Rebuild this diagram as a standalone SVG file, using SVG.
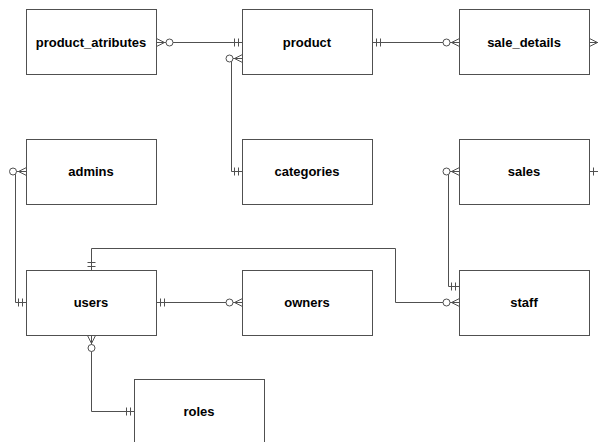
<svg xmlns="http://www.w3.org/2000/svg" width="598" height="442" viewBox="0 0 598 442">
<style>
.box{fill:#fff;stroke:#505050;stroke-width:1}
.lbl{font-family:"Liberation Sans",Arial,sans-serif;font-weight:bold;font-size:13px;fill:#000;text-anchor:middle}
.ln{fill:none;stroke:#505050;stroke-width:1}
.o{fill:#fff;stroke:#505050;stroke-width:1}
</style>
<rect width="598" height="442" fill="#fff"/>
<g id="connectors">
  <!-- product_atributes - product -->
  <path class="ln" d="M156.5,42.5H242.5M156.5,38.5L164.5,42.5L156.5,46.5M234.5,38.5V46.5M238.5,38.5V46.5"/>
  <circle class="o" cx="169.5" cy="42.5" r="3.5"/>
  <!-- product - categories -->
  <path class="ln" d="M242.5,58.5H231.5V171.5H242.5M242.5,54.5L234.5,58.5L242.5,62.5M234.5,167.5V175.5M238.5,167.5V175.5"/>
  <circle class="o" cx="229.5" cy="58.5" r="3.5"/>
  <!-- product - sale_details -->
  <path class="ln" d="M372.5,42.5H459.5M376.5,38.5V46.5M380.5,38.5V46.5M459.5,38.5L451.5,42.5L459.5,46.5"/>
  <circle class="o" cx="446.5" cy="42.5" r="3.5"/>
  <!-- sale_details right (off canvas) -->
  <path class="ln" d="M589.5,42.5H598M589.5,38.5L597.5,42.5L589.5,46.5"/>
  <!-- sales right (off canvas) -->
  <path class="ln" d="M589.5,171.5H598M593.5,167.5V175.5"/>
  <!-- admins - users -->
  <path class="ln" d="M26.5,171.5H15.5V302.5H26.5M26.5,167.5L18.5,171.5L26.5,175.5M18.5,298.5V306.5M22.5,298.5V306.5"/>
  <circle class="o" cx="13" cy="171.5" r="3.5"/>
  <!-- users - owners -->
  <path class="ln" d="M156.5,302.5H242.5M160.5,298.5V306.5M164.5,298.5V306.5M242.5,298.5L234.5,302.5L242.5,306.5"/>
  <circle class="o" cx="229.5" cy="302.5" r="3.5"/>
  <!-- users - staff -->
  <path class="ln" d="M91.5,270.5V248.5H395.5V302.5H459.5M87.5,262.5H95.5M87.5,266.5H95.5M459.5,298.5L451.5,302.5L459.5,306.5"/>
  <circle class="o" cx="446.5" cy="302.5" r="3.5"/>
  <!-- sales - staff -->
  <path class="ln" d="M459.5,171.5H448.5V286.5H459.5M459.5,167.5L451.5,171.5L459.5,175.5M451.5,282.5V290.5M455.5,282.5V290.5"/>
  <circle class="o" cx="446.5" cy="171.5" r="3.5"/>
  <!-- users - roles -->
  <path class="ln" d="M91.5,335.5V411.5H134.5M87.5,335.5L91.5,343.5L95.5,335.5M126.5,407.5V415.5M130.5,407.5V415.5"/>
  <circle class="o" cx="91.5" cy="348" r="3.5"/>
</g>
<g id="product_atributes"><rect class="box" x="26.5" y="9.5" width="130" height="65"/><text class="lbl" x="91" y="46.5">product_atributes</text></g>
<g id="product"><rect class="box" x="242.5" y="9.5" width="130" height="65"/><text class="lbl" x="307" y="46.5">product</text></g>
<g id="sale_details"><rect class="box" x="459.5" y="9.5" width="130" height="65"/><text class="lbl" x="524" y="46.5">sale_details</text></g>
<g id="admins"><rect class="box" x="26.5" y="139.5" width="130" height="65"/><text class="lbl" x="91" y="176">admins</text></g>
<g id="categories"><rect class="box" x="242.5" y="139.5" width="130" height="65"/><text class="lbl" x="307" y="176">categories</text></g>
<g id="sales"><rect class="box" x="459.5" y="139.5" width="130" height="65"/><text class="lbl" x="524" y="176">sales</text></g>
<g id="users"><rect class="box" x="26.5" y="270.5" width="130" height="65"/><text class="lbl" x="91" y="307">users</text></g>
<g id="owners"><rect class="box" x="242.5" y="270.5" width="130" height="65"/><text class="lbl" x="307" y="307">owners</text></g>
<g id="staff"><rect class="box" x="459.5" y="270.5" width="130" height="65"/><text class="lbl" x="524" y="307">staff</text></g>
<g id="roles"><rect class="box" x="134.5" y="379.5" width="130" height="65"/><text class="lbl" x="199" y="416">roles</text></g>
</svg>
